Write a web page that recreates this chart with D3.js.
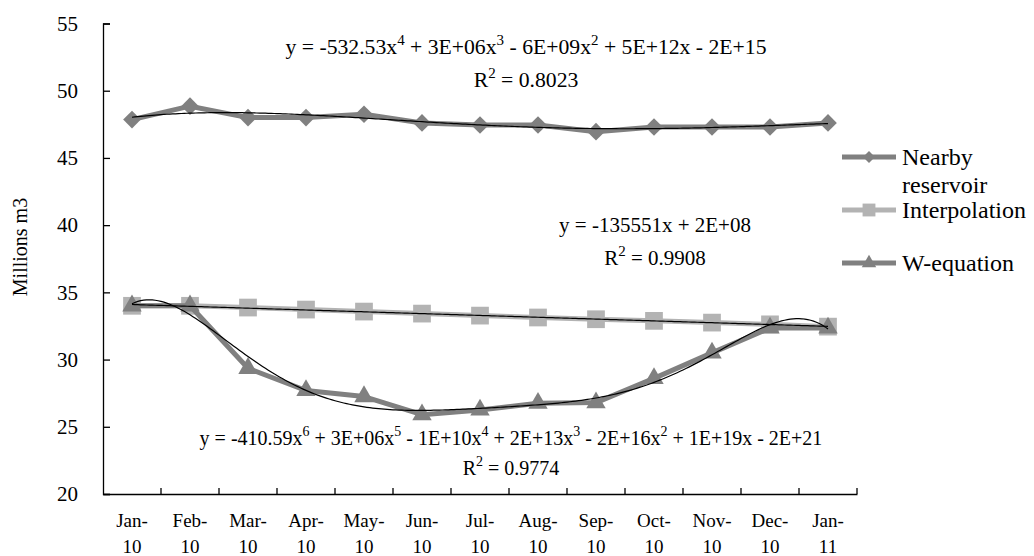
<!DOCTYPE html>
<html><head><meta charset="utf-8">
<script src="https://cdn.jsdelivr.net/npm/d3@7"></script>
<style>
html,body{margin:0;padding:0;background:#fff;}
svg{display:block;}
</style></head>
<body>
<svg id="chart" width="1034" height="556"></svg>
<script>
const categories = ["Jan-10","Feb-10","Mar-10","Apr-10","May-10","Jun-10","Jul-10","Aug-10","Sep-10","Oct-10","Nov-10","Dec-10","Jan-11"];
const nearbyReservoir = [47.85,48.85,48.0,48.0,48.25,47.6,47.45,47.45,46.95,47.3,47.3,47.3,47.6];
const interpolation   = [34.0,34.0,33.87,33.72,33.57,33.42,33.27,33.13,33.0,32.88,32.75,32.62,32.45];
const wEquation       = [34.0,34.0,29.35,27.7,27.25,25.9,26.25,26.75,26.8,28.6,30.5,32.35,32.35];
const yTicks = [20,25,30,35,40,45,50,55];
const legendLabels = [["Nearby","reservoir"],["Interpolation"],["W-equation"]];
const eqText1 = ["y = -532.53x","4"," + 3E+06x","3"," - 6E+09x","2"," + 5E+12x - 2E+15"];
const r2Text1 = "0.8023";
const eqText2 = ["y = -135551x + 2E+08"];
const r2Text2 = "0.9908";
const eqText3 = ["y = -410.59x","6"," + 3E+06x","5"," - 1E+10x","4"," + 2E+13x","3"," - 2E+16x","2"," + 1E+19x - 2E+21"];
const r2Text3 = "0.9774";

const FONT = '"Liberation Serif"';
const svg = d3.select("#chart");
const L = 103, R = 857, T = 23.5, B = 494;
const x = d3.scaleBand().domain(categories).range([L, R]).padding(0);
const bw = x.bandwidth();
const cx = c => x(c) + bw/2;
const y = d3.scaleLinear().domain([20,55]).range([B, T]);

const dark = "#808080", light = "#b3b3b3";

function polyfit(vals, deg){
  const n = vals.length;
  const xs = vals.map((_,i)=> (i - (n-1)/2)/((n-1)/2));
  const m = deg+1;
  const A = Array.from({length:m},()=>Array(m+1).fill(0));
  for(let r=0;r<m;r++){
    for(let c=0;c<m;c++) A[r][c] = d3.sum(xs, v=>Math.pow(v,r+c));
    A[r][m] = d3.sum(xs.map((v,i)=>Math.pow(v,r)*vals[i]));
  }
  for(let i=0;i<m;i++){
    let p=i; for(let k=i+1;k<m;k++) if(Math.abs(A[k][i])>Math.abs(A[p][i])) p=k;
    [A[i],A[p]]=[A[p],A[i]];
    for(let k=i+1;k<m;k++){const f=A[k][i]/A[i][i]; for(let j=i;j<=m;j++) A[k][j]-=f*A[i][j];}
  }
  const coef=Array(m).fill(0);
  for(let i=m-1;i>=0;i--){let s=A[i][m]; for(let j=i+1;j<m;j++) s-=A[i][j]*coef[j]; coef[i]=s/A[i][i];}
  return t => { const u=(t-(n-1)/2)/((n-1)/2); return coef.reduce((a,c,k)=>a+c*Math.pow(u,k),0); };
}
const xi = d3.scaleLinear().domain([0, categories.length-1]).range([cx(categories[0]), cx(categories[categories.length-1])]);

// y axis
const yAxis = d3.axisLeft(y).tickValues(yTicks).tickSize(-7).tickPadding(25).tickFormat(d3.format("d"));
const gy = svg.append("g").attr("transform",`translate(${L},0)`).call(yAxis);
gy.select(".domain").attr("stroke","#000").attr("stroke-width",1.3);
gy.selectAll(".tick line").attr("stroke","#000").attr("stroke-width",1.3);
gy.selectAll(".tick text").attr("font-size",21).style("font-family",FONT).attr("fill","#000");

// x axis
const xAxis = d3.axisBottom(x).tickSize(0).tickFormat(()=>"");
const gx = svg.append("g").attr("transform",`translate(0,${B})`).call(xAxis);
gx.select(".domain").attr("stroke","#000").attr("stroke-width",1.3);
const bounds = categories.slice(1).map(c=>x(c)).concat([x(categories[categories.length-1])+bw]);
svg.selectAll(".xt").data(bounds).enter().append("line")
  .attr("x1",d=>d).attr("x2",d=>d).attr("y1",B).attr("y2",B-6).attr("stroke","#000").attr("stroke-width",1.3);
categories.forEach(c=>{
  const parts = c.split("-");
  svg.append("text").attr("x",cx(c)).attr("y",527).attr("text-anchor","middle").attr("font-size",19)
    .style("font-family",FONT).attr("fill","#000").text(parts[0]+"-");
  svg.append("text").attr("x",cx(c)).attr("y",553).attr("text-anchor","middle").attr("font-size",19)
    .style("font-family",FONT).attr("fill","#000").text(parts[1]);
});

svg.append("text").attr("transform","translate(27,247) rotate(-90)").attr("text-anchor","middle")
  .attr("font-size",20).style("font-family",FONT).attr("fill","#000").text("Millions m3");

// series
const line = d3.line().x((d,i)=>cx(categories[i])).y(d=>y(d));
const series = [
  {vals:nearbyReservoir,color:dark,sym:d3.symbolDiamond2,size:200,deg:4},
  {vals:interpolation,color:light,sym:d3.symbolSquare2,size:400,deg:1},
  {vals:wEquation,color:dark,sym:d3.symbolTriangle2,size:270,deg:6}
];
series.forEach(s=>{
  svg.append("path").attr("d",line(s.vals)).attr("fill","none").attr("stroke",s.color).attr("stroke-width",5).attr("stroke-linejoin","round");
  svg.selectAll(null).data(s.vals).enter().append("path")
    .attr("d",d3.symbol().type(s.sym).size(s.size))
    .attr("transform",(d,i)=>`translate(${cx(categories[i])},${y(d)})`)
    .attr("fill",s.color);
});
series.forEach(s=>{
  const f = polyfit(s.vals, s.deg);
  const pts = d3.range(0, categories.length-1+0.001, 0.05);
  svg.append("path").attr("d", d3.line().x(t=>xi(t)).y(t=>y(f(t)))(pts))
    .attr("fill","none").attr("stroke","#000").attr("stroke-width",1.2);
});

// equations
function eq(parts, r2, cxp, y1, y2, fs){
  const sfs = Math.round(fs*0.7);
  const t = svg.append("text").attr("x",cxp).attr("y",y1).attr("text-anchor","middle")
    .attr("font-size",fs).style("font-family",FONT).attr("fill","#000");
  parts.forEach((p,i)=>{
    const sup = (i%2===1);
    t.append("tspan").attr("font-size",sup?sfs:fs).attr("dy",sup?-9:(i>0?9:0)).text(p);
  });
  const r = svg.append("text").attr("x",cxp).attr("y",y2).attr("text-anchor","middle")
    .attr("font-size",fs).style("font-family",FONT).attr("fill","#000");
  r.append("tspan").text("R");
  r.append("tspan").attr("font-size",sfs).attr("dy",-9).text("2");
  r.append("tspan").attr("dy",9).text(" = "+r2);
}
eq(eqText1, r2Text1, 526, 54, 87, 21.7);
eq(eqText2, r2Text2, 655, 232, 265, 21);
eq(eqText3, r2Text3, 511, 445, 475, 20);

// legend
const lg = [{y:157,c:dark,sym:d3.symbolDiamond2,size:90},
            {y:210,c:light,sym:d3.symbolSquare2,size:210},
            {y:263,c:dark,sym:d3.symbolTriangle2,size:150}];
lg.forEach((d,i)=>{
  svg.append("line").attr("x1",842).attr("x2",896).attr("y1",d.y).attr("y2",d.y).attr("stroke",d.c).attr("stroke-width",5);
  svg.append("path").attr("d",d3.symbol().type(d.sym).size(d.size)).attr("transform",`translate(869,${d.y})`).attr("fill",d.c);
  legendLabels[i].forEach((l,k)=>svg.append("text").attr("x",902).attr("y",d.y+8+k*28)
    .attr("font-size",24).style("font-family",FONT).attr("fill","#000").text(l));
});
</script>
</body></html>
